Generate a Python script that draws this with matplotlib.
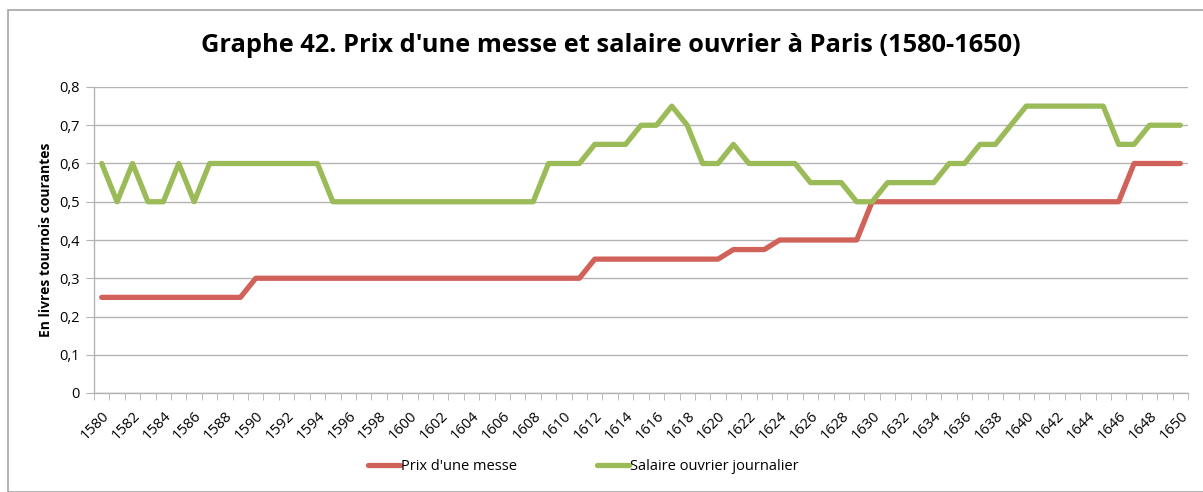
import matplotlib.pyplot as plt
import numpy as np
from matplotlib.patches import Rectangle

years = list(range(1580, 1651))

# Prix d'une messe (livres tournois)
prix_messe = (
    [0.25] * 10            # 1580-1589
    + [0.30] * 22          # 1590-1611
    + [0.35] * 9           # 1612-1620
    + [0.375] * 3          # 1621-1623
    + [0.40] * 6           # 1624-1629
    + [0.50] * 17          # 1630-1646
    + [0.60] * 4           # 1647-1650
)

# Salaire ouvrier journalier
salaire = (
    [0.6, 0.5, 0.6, 0.5, 0.5, 0.6, 0.5]          # 1580-1586
    + [0.6] * 8                                  # 1587-1594
    + [0.5] * 14                                 # 1595-1608
    + [0.6, 0.6, 0.6]                            # 1609-1611
    + [0.65, 0.65, 0.65]                         # 1612-1614
    + [0.7, 0.7, 0.75, 0.7]                      # 1615-1618
    + [0.6, 0.6, 0.65, 0.6, 0.6, 0.6, 0.6]       # 1619-1625
    + [0.55, 0.55, 0.55]                         # 1626-1628
    + [0.5, 0.5]                                 # 1629-1630
    + [0.55] * 4                                 # 1631-1634
    + [0.6, 0.6, 0.65, 0.65, 0.7]                # 1635-1639
    + [0.75] * 6                                 # 1640-1645
    + [0.65, 0.65, 0.7, 0.7, 0.7]                # 1646-1650
)

rouge = '#D0625A'
vert = '#9BBB59'
gris = '#B3B3B3'

plt.rcParams['font.family'] = ['Open Sans', 'DejaVu Sans']

fig = plt.figure(figsize=(12.03, 4.92), dpi=100)
ax = fig.add_axes([94 / 1203, 1 - 393 / 492, (1188 - 94) / 1203, (393 - 87) / 492])

# cadre du graphique
fig.patches.append(Rectangle((8 / 1203, 0), 1.2, 1 - 10 / 492, transform=fig.transFigure,
                             fill=False, edgecolor='#A6A6A6', linewidth=1.2))

ax.plot(years, prix_messe, color=rouge, linewidth=3.8, solid_capstyle='round',
        solid_joinstyle='round', label="Prix d'une messe")
ax.plot(years, salaire, color=vert, linewidth=3.8, solid_capstyle='round',
        solid_joinstyle='round', label='Salaire ouvrier journalier')

ax.set_xlim(1579.5, 1650.5)
ax.set_ylim(0, 0.8)

yt = np.arange(0, 0.81, 0.1)
ax.set_yticks(yt)
ax.set_yticklabels(['0' if v == 0 else f'{v:.1f}'.replace('.', ',') for v in yt], fontsize=10.5)
ax.grid(axis='y', color=gris, linewidth=1)
ax.set_axisbelow(True)

ax.set_xticks(years[::2])
ax.set_xticklabels([str(y) for y in years[::2]], rotation=45, ha='right',
                   rotation_mode='anchor', fontsize=10.5)
ax.set_xticks(np.arange(1579.5, 1651, 1), minor=True)
ax.tick_params(axis='x', which='major', length=0, pad=11)
ax.tick_params(axis='x', which='minor', length=5, color=gris, direction='out')
ax.tick_params(axis='y', length=6, color=gris, pad=4)

for s in ['top', 'right']:
    ax.spines[s].set_visible(False)
for s in ['left', 'bottom']:
    ax.spines[s].set_color(gris)
    ax.spines[s].set_linewidth(1)

ax.set_ylabel('En livres tournois courantes', fontsize=10, fontweight='bold', labelpad=5)

fig.text(611 / 1203, 1 - 46 / 492, "Graphe 42. Prix d'une messe et salaire ouvrier à Paris (1580-1650)",
         ha='center', va='center', fontsize=18.3, fontweight='bold')

fig.legend(loc='center', bbox_to_anchor=(583 / 1203, 1 - 467 / 492), ncol=2, frameon=False,
           fontsize=10.5, handlelength=2.2, handletextpad=0.05, columnspacing=5.5)

plt.savefig('out.png', dpi=100)
plt.close()
